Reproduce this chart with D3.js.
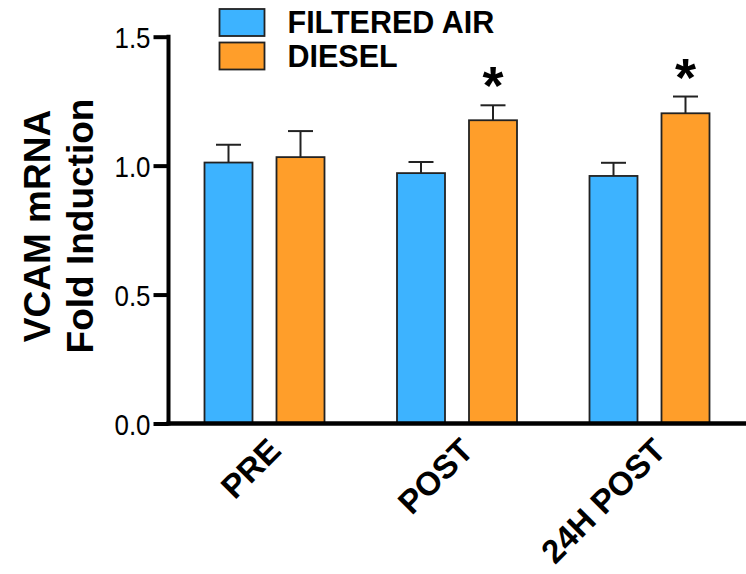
<!DOCTYPE html>
<html><head><meta charset="utf-8">
<script src="https://cdn.jsdelivr.net/npm/d3@7"></script>
<style>html,body{margin:0;padding:0;background:#fff;}svg{display:block;}</style>
</head><body>
<svg id="c" width="746" height="574"></svg>
<script>
const categories = ["PRE", "POST", "24H POST"];
const seriesNames = ["FILTERED AIR", "DIESEL"];
const filteredAir = [1.012, 0.971, 0.960];
const filteredAirErr = [0.069, 0.043, 0.051];
const diesel = [1.033, 1.176, 1.203];
const dieselErr = [0.101, 0.058, 0.065];
const significant = [false, true, true];
const yTicks = [0.0, 0.5, 1.0, 1.5];
const colors = ["#3db3ff", "#ff9e2a"];

const svg = d3.select("#c");
const axisX = 168.5, axisRight = 746, y0 = 423.5, yTop = 36.7;
const x = d3.scaleBand().domain(categories).range([axisX, axisRight]).padding(0);
const xs = d3.scaleBand().domain(seriesNames).range([36, 156]).paddingInner(1/3).paddingOuter(0);
const y = d3.scaleLinear().domain([0, 1.5]).range([y0, yTop]);

const rows = [];
categories.forEach((c, i) => {
  rows.push({cat: c, s: seriesNames[0], v: filteredAir[i], e: filteredAirErr[i], col: colors[0], sig: false});
  rows.push({cat: c, s: seriesNames[1], v: diesel[i], e: dieselErr[i], col: colors[1], sig: significant[i]});
});

const stroke = "#222";
// error bars (behind bars)
const eb = svg.append("g");
rows.forEach(d => {
  const cx = x(d.cat) + xs(d.s) + xs.bandwidth() / 2;
  eb.append("line").attr("x1", cx).attr("x2", cx).attr("y1", y(d.v)).attr("y2", y(d.v + d.e))
    .attr("stroke", stroke).attr("stroke-width", 2);
  eb.append("line").attr("x1", cx - 12.5).attr("x2", cx + 12.5).attr("y1", y(d.v + d.e)).attr("y2", y(d.v + d.e))
    .attr("stroke", stroke).attr("stroke-width", 2);
});
// bars
svg.append("g").selectAll("rect").data(rows).join("rect")
  .attr("x", d => x(d.cat) + xs(d.s))
  .attr("y", d => y(d.v))
  .attr("width", xs.bandwidth())
  .attr("height", d => y(0) - y(d.v))
  .attr("fill", d => d.col)
  .attr("stroke", stroke).attr("stroke-width", 1.8);
// asterisks
svg.append("g").selectAll("text").data(rows.filter(d => d.sig)).join("text")
  .attr("x", d => x(d.cat) + xs(d.s) + xs.bandwidth() / 2)
  .attr("y", d => y(d.v + d.e) - 1)
  .attr("text-anchor", "middle")
  .attr("font-family", "'Liberation Sans', Arial, sans-serif")
  .attr("font-weight", "bold").attr("font-size", 54)
  .attr("fill", "#000").text("*");

// y axis
const yAxis = svg.append("g").attr("transform", `translate(${axisX},0)`)
  .call(d3.axisLeft(y).tickValues(yTicks).tickFormat(d3.format(".1f")).tickSize(15).tickPadding(3));
yAxis.select(".domain").remove();
yAxis.selectAll(".tick line").attr("stroke", "#000").attr("stroke-width", 4);
yAxis.selectAll(".tick text")
  .attr("font-family", "'Liberation Sans', Arial, sans-serif")
  .attr("font-size", 30).attr("fill", "#000")
  .attr("dy", "0.36em")
  .attr("textLength", 36).attr("lengthAdjust", "spacingAndGlyphs");
svg.append("line").attr("x1", axisX).attr("x2", axisX).attr("y1", yTop - 2).attr("y2", y0 + 2)
  .attr("stroke", "#000").attr("stroke-width", 4);

// x axis
const xAxis = svg.append("g").attr("transform", `translate(0,${y0})`)
  .call(d3.axisBottom(x).tickSize(0).tickPadding(0));
xAxis.select(".domain").remove();
svg.append("line").attr("x1", axisX - 2).attr("x2", axisRight).attr("y1", y0).attr("y2", y0)
  .attr("stroke", "#000").attr("stroke-width", 4.5);
xAxis.selectAll(".tick text")
  .attr("font-family", "'Liberation Sans', Arial, sans-serif")
  .attr("font-weight", "bold").attr("font-size", 33).attr("fill", "#000")
  .attr("text-anchor", "end").attr("dy", 0)
  .attr("transform", "translate(18,29) rotate(-45)")
  .attr("y", 0);

// y axis title
const yt = svg.append("text")
  .attr("transform", "translate(0,226) rotate(-90)")
  .attr("text-anchor", "middle")
  .attr("font-family", "'Liberation Sans', Arial, sans-serif")
  .attr("font-weight", "bold").attr("font-size", 37).attr("fill", "#000");
yt.append("tspan").attr("x", 0).attr("y", 50).text("VCAM mRNA");
yt.append("tspan").attr("x", 0).attr("y", 93).text("Fold Induction");

// legend
const lg = svg.append("g");
seriesNames.forEach((s, i) => {
  const ly = 9 + i * 33.5;
  lg.append("rect").attr("x", 219.5).attr("y", ly).attr("width", 45).attr("height", 27)
    .attr("fill", colors[i]).attr("stroke", stroke).attr("stroke-width", 1.8);
  lg.append("text").attr("x", 287.5).attr("y", ly + 24)
    .attr("font-family", "'Liberation Sans', Arial, sans-serif")
    .attr("font-weight", "bold").attr("font-size", 30.5).attr("fill", "#000").text(s);
});
</script>
</body></html>
